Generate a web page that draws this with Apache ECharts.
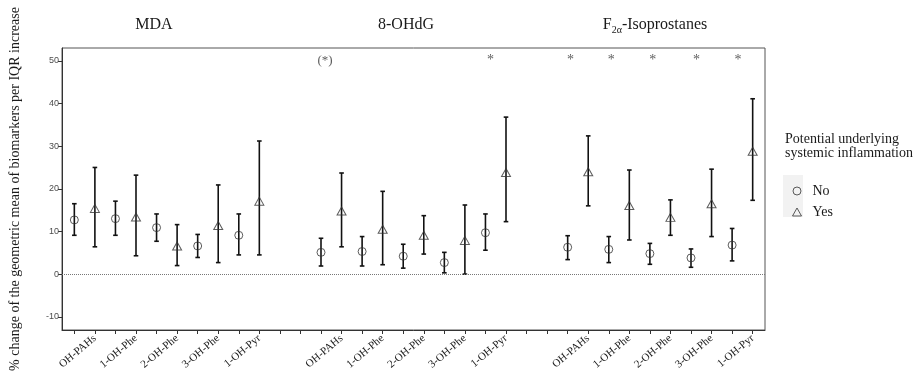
<!DOCTYPE html>
<html>
<head>
<meta charset="utf-8">
<script src="https://cdn.jsdelivr.net/npm/echarts@6/dist/echarts.min.js"></script>
<style>
  html, body { margin: 0; padding: 0; background: #fff; }
  #chart { width: 919px; height: 384px; }
</style>
</head>
<body>
<div id="chart"></div>
<script>
const biomarkers = ['MDA', '8-OHdG', 'F2α-Isoprostanes'];
const compounds = ['OH-PAHs', '1-OH-Phe', '2-OH-Phe', '3-OH-Phe', '1-OH-Pyr'];
const yTicks = [-10, 0, 10, 20, 30, 40, 50];

// values per biomarker block (MDA, 8-OHdG, F2a), compounds in the order above
// No underlying inflammation (circles)
const noEst  = [12.7, 13.0, 10.9, 6.6, 9.1,   5.1, 5.3, 4.2, 2.7, 9.7,   6.3, 5.8, 4.8, 3.8, 6.8];
const noLow  = [9.1, 9.1, 7.7, 3.9, 4.5,      1.9, 1.9, 1.4, 0.3, 5.6,   3.4, 2.7, 2.3, 1.6, 3.1];
const noHigh = [16.5, 17.1, 14.1, 9.3, 14.1,  8.4, 8.8, 7.0, 5.1, 14.1,  9.0, 8.8, 7.2, 5.9, 10.7];
// Yes (triangles)
const yesEst  = [15.4, 13.4, 6.6, 11.4, 17.1,   14.8, 10.5, 9.1, 7.9, 23.8,   24.0, 16.1, 13.3, 16.5, 28.8];
const yesLow  = [6.4, 4.3, 2.0, 2.7, 4.5,       6.4, 2.2, 4.7, 0.0, 12.3,     16.0, 8.0, 9.1, 8.8, 17.3];
const yesHigh = [25.0, 23.2, 11.6, 20.9, 31.2,  23.7, 19.4, 13.7, 16.2, 36.8, 32.4, 24.4, 17.4, 24.6, 41.1];

// significance marks near the top
const starX = [20.24, 24.14, 26.12, 28.14, 30.27, 32.29];
const parenStarX = [12.2];
const markY = 50;

// slot on the x scale: 12 slots per biomarker block, 2 per compound
const slot = (i, g) => Math.floor(i / 5) * 12 + (i % 5) * 2 + g;

const serif = 'Liberation Serif';
const ink = '#1a1a1a';

const errData = [];
const noPts = [], yesPts = [];
noEst.forEach((v, i) => {
  noPts.push([slot(i, 0), v]);
  errData.push([slot(i, 0), noLow[i], noHigh[i]]);
});
yesEst.forEach((v, i) => {
  yesPts.push([slot(i, 1), v]);
  errData.push([slot(i, 1), yesLow[i], yesHigh[i]]);
});

const tickPos = [];
for (let i = 0; i < 34; i++) tickPos.push(i);
const labelPos = [];
const labelText = {};
biomarkers.forEach((b, bi) => compounds.forEach((c, ci) => {
  const x = slot(bi * 5 + ci, 1);
  labelPos.push(x);
  labelText[x] = c;
}));

const chart = echarts.init(document.getElementById('chart'), null, { renderer: 'canvas' });

const hollow = { color: 'rgba(0,0,0,0)', borderColor: '#333', borderWidth: 1 };

chart.setOption({
  animation: false,
  backgroundColor: '#fff',
  grid: {
    left: 57, right: 154, top: 48, bottom: 54,
    show: true, borderColor: '#555', borderWidth: 1
  },
  xAxis: {
    type: 'value', min: -0.6, max: 33.6,
    splitLine: { show: false },
    axisLine: { show: true, onZero: false, lineStyle: { color: '#333' } },
    axisTick: { show: true, customValues: tickPos, length: 4, lineStyle: { color: '#333' } },
    axisLabel: {
      customValues: labelPos,
      formatter: v => labelText[v] || '',
      rotate: 40, margin: 7,
      fontFamily: serif, fontSize: 11, color: ink
    }
  },
  yAxis: {
    type: 'value', min: -13.1, max: 53.0,
    splitLine: { show: false },
    axisLine: { show: true, onZero: false, lineStyle: { color: '#333' } },
    axisTick: { show: true, customValues: yTicks, length: 4, lineStyle: { color: '#333' } },
    axisLabel: {
      customValues: yTicks, margin: 3,
      fontFamily: 'Liberation Sans', fontSize: 9, color: '#4d4d4d'
    },
    name: '% change of the geometric mean of biomarkers per IQR increase',
    nameLocation: 'middle', nameGap: 40,
    nameTextStyle: { fontFamily: serif, fontSize: 14, color: ink }
  },
  legend: {
    orient: 'vertical', left: 787, top: 179,
    itemWidth: 9, itemHeight: 8, itemGap: 7, z: 5,
    textStyle: { fontFamily: serif, fontSize: 14, color: ink, lineHeight: 14, padding: [0, 0, 0, 6] },
    data: [
      { name: 'No', icon: 'circle', itemStyle: hollow },
      { name: 'Yes', icon: 'triangle', itemStyle: hollow }
    ]
  },
  graphic: [
    { type: 'rect', shape: { x: 783, y: 175, width: 20, height: 42 }, style: { fill: '#f2f2f2' }, z: 0 },
    {
      type: 'text', x: 785, y: 132, z: 5,
      style: {
        text: 'Potential underlying\nsystemic inflammation',
        fontFamily: serif, fontSize: 14, lineHeight: 14, fill: ink, verticalAlign: 'top'
      }
    },
    {
      type: 'text', x: 154, y: 25,
      style: { text: biomarkers[0], fontFamily: serif, fontSize: 16, fill: ink, align: 'center', verticalAlign: 'middle' }
    },
    {
      type: 'text', x: 406, y: 25,
      style: { text: biomarkers[1], fontFamily: serif, fontSize: 16, fill: ink, align: 'center', verticalAlign: 'middle' }
    },
    {
      type: 'text', x: 655, y: 25,
      style: {
        text: '{n|F}{s|2α}{n|-Isoprostanes}',
        align: 'center', verticalAlign: 'middle',
        rich: {
          n: { fontFamily: serif, fontSize: 16, fill: ink, lineHeight: 20 },
          s: { fontFamily: serif, fontSize: 10, fill: ink, verticalAlign: 'bottom' }
        }
      }
    }
  ],
  series: [
    {
      type: 'custom', name: 'ci', silent: true,
      data: errData,
      renderItem: (params, api) => {
        const x = api.value(0);
        const top = api.coord([x, api.value(2)]);
        const bot = api.coord([x, api.value(1)]);
        const cap = 2.3;
        const st = { stroke: '#111', lineWidth: 1.6 };
        return {
          type: 'group',
          children: [
            { type: 'line', shape: { x1: top[0], y1: top[1], x2: bot[0], y2: bot[1] }, style: st },
            { type: 'line', shape: { x1: top[0] - cap, y1: top[1], x2: top[0] + cap, y2: top[1] }, style: st },
            { type: 'line', shape: { x1: bot[0] - cap, y1: bot[1], x2: bot[0] + cap, y2: bot[1] }, style: st }
          ]
        };
      }
    },
    {
      type: 'scatter', name: 'No', data: noPts,
      symbol: 'circle', symbolSize: 8, itemStyle: hollow, z: 3,
      markLine: {
        silent: true, symbol: 'none',
        label: { show: false },
        lineStyle: { type: 'dotted', color: '#777', width: 1 },
        data: [{ yAxis: 0 }]
      }
    },
    {
      type: 'scatter', name: 'Yes', data: yesPts,
      symbol: 'triangle', symbolSize: [9, 8], itemStyle: hollow, z: 3
    },
    {
      type: 'scatter', name: 'sig', silent: true,
      data: starX.map(x => [x, markY]),
      symbolSize: 1, itemStyle: { color: 'rgba(0,0,0,0)' },
      label: { show: true, position: 'inside', formatter: '*', fontFamily: serif, fontSize: 14, color: '#333' }
    },
    {
      type: 'scatter', name: 'sig2', silent: true,
      data: parenStarX.map(x => [x, markY]),
      symbolSize: 1, itemStyle: { color: 'rgba(0,0,0,0)' },
      label: { show: true, position: 'inside', formatter: '(*)', fontFamily: serif, fontSize: 13, color: '#333' }
    }
  ]
});
</script>
</body>
</html>
